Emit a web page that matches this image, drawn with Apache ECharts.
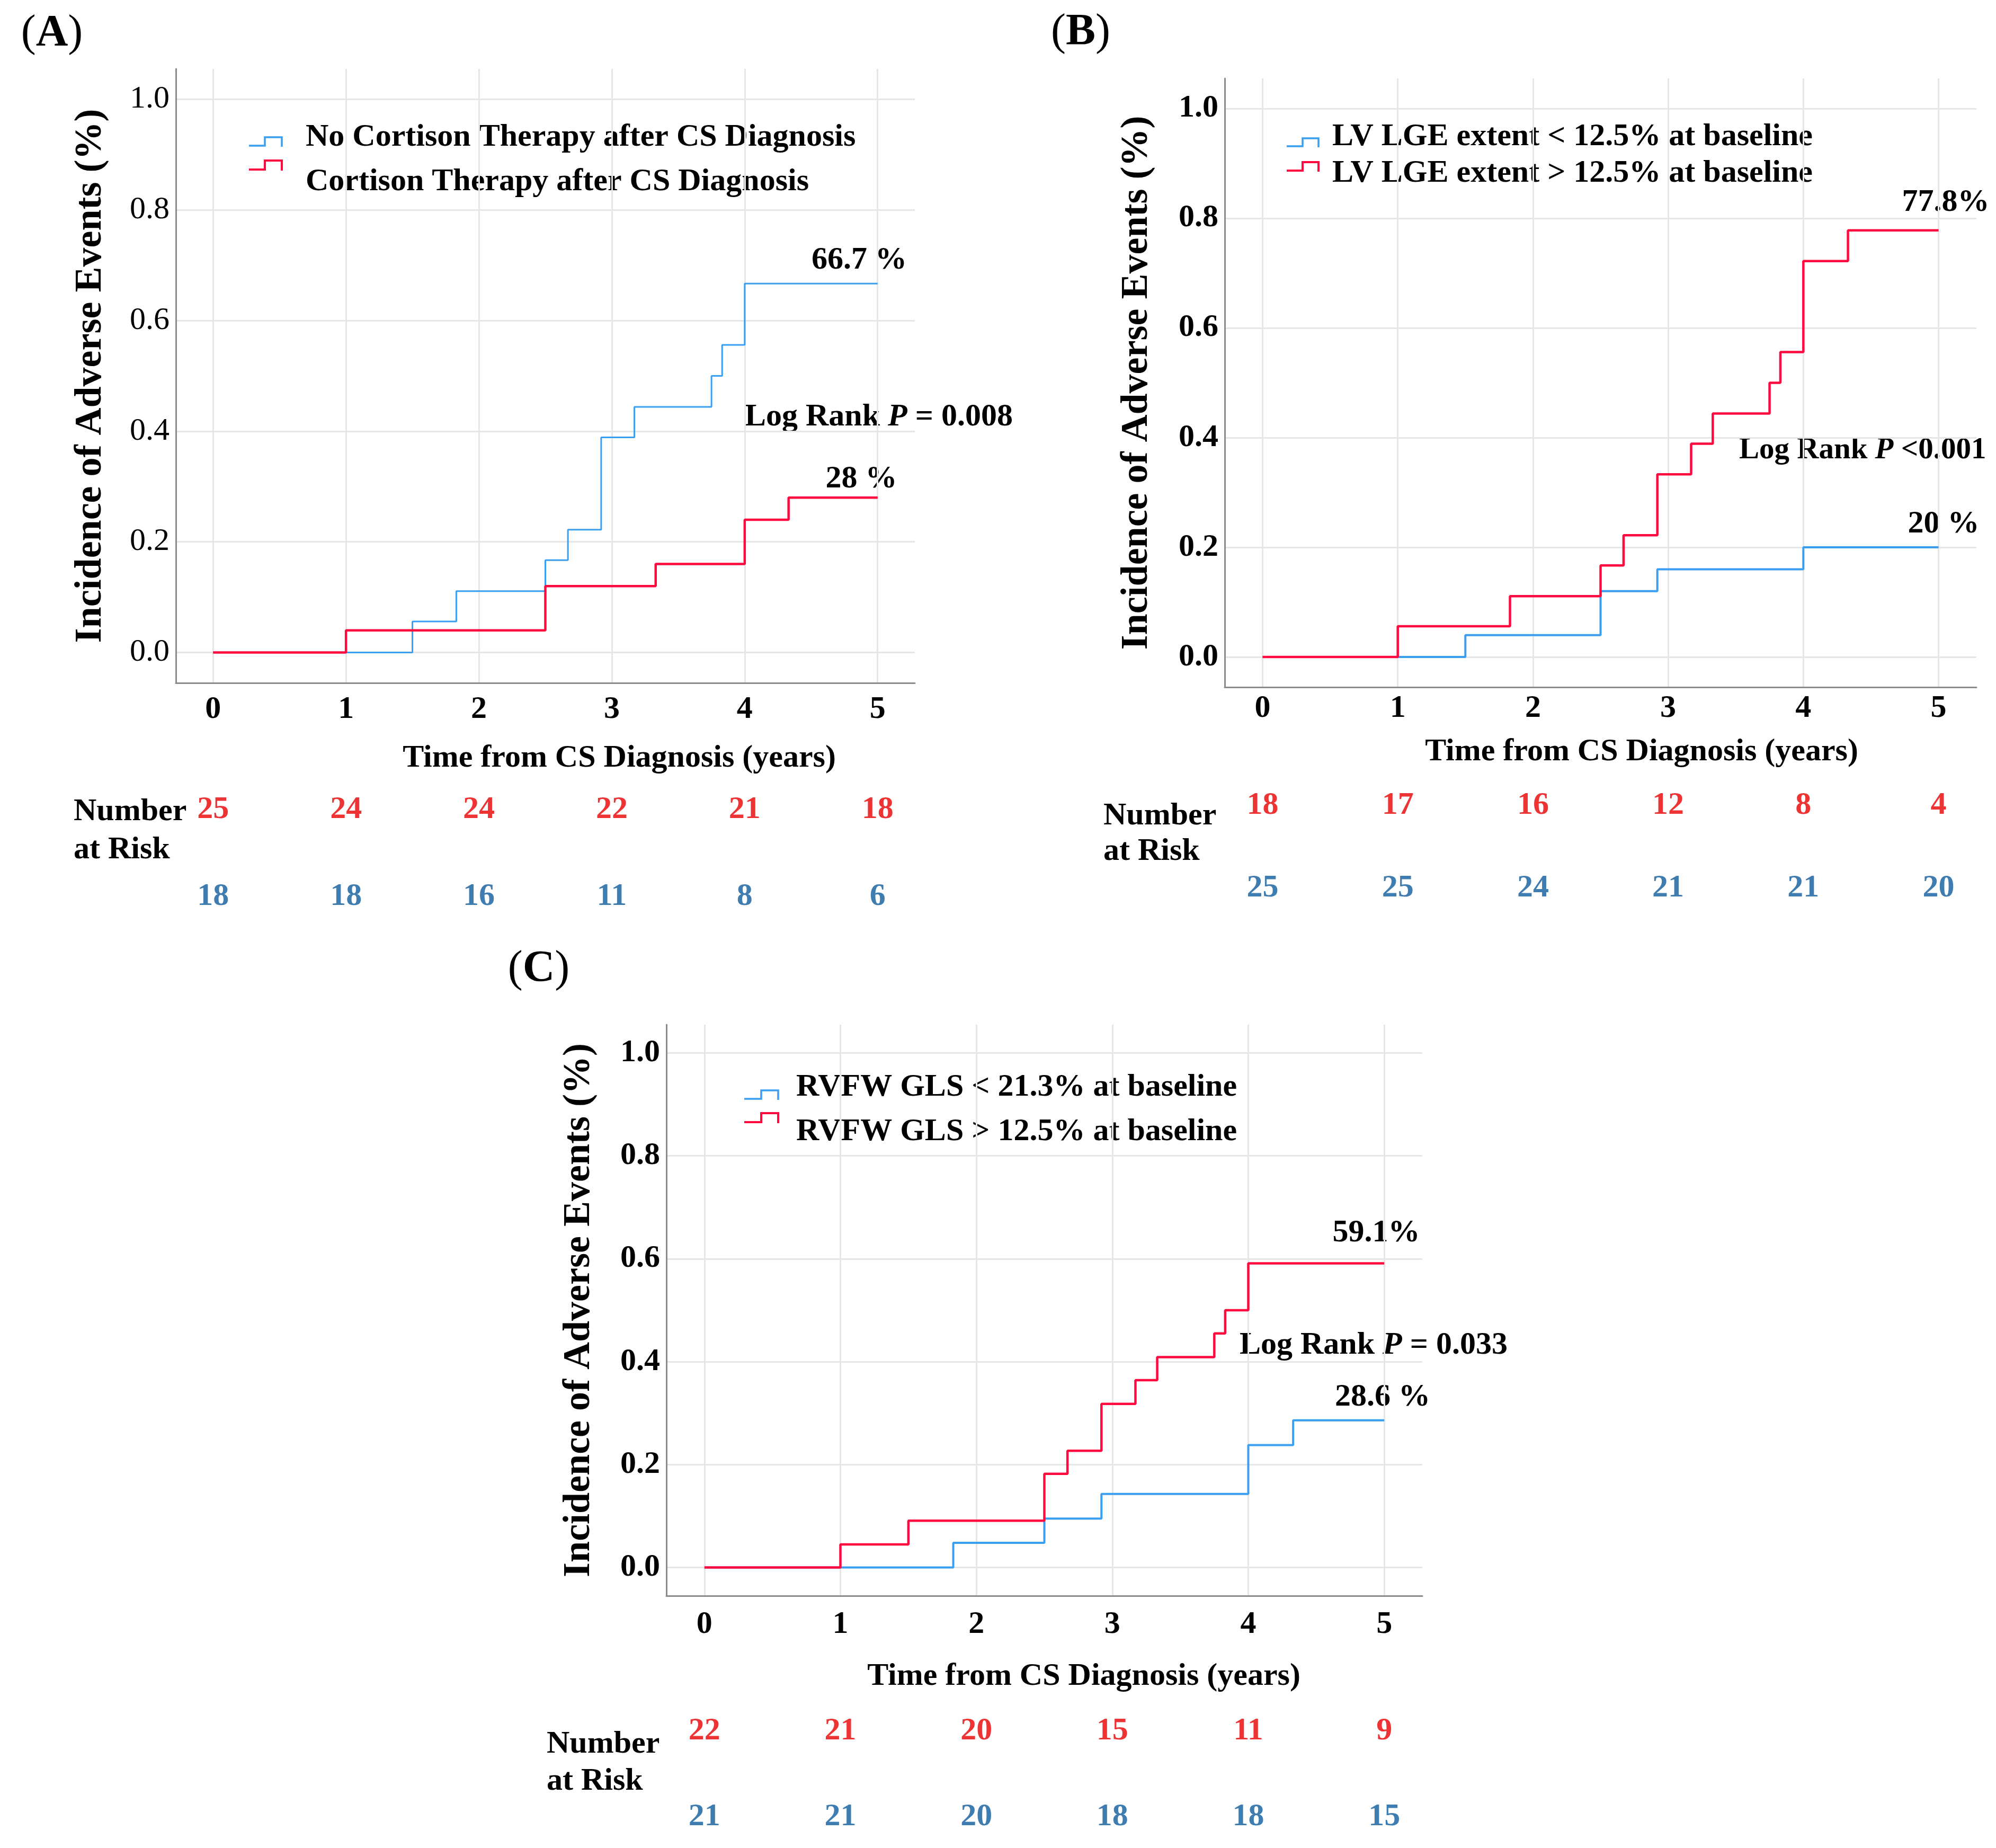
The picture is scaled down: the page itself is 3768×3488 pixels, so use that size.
<!DOCTYPE html>
<html><head><meta charset="utf-8">
<script src="https://cdn.jsdelivr.net/npm/echarts@6/dist/echarts.min.js"></script>
<style>html,body{margin:0;padding:0;background:#fff}#c{width:3768px;height:3488px}</style>
</head><body><div id="c"></div><script>
// ---------- data ----------
const xTicks = [0, 1, 2, 3, 4, 5];
const yTicks = [0, 0.2, 0.4, 0.6, 0.8, 1.0];
const riskTimes = [0, 1, 2, 3, 4, 5];

// Panel A
const aBlueName = 'No Cortison Therapy after CS Diagnosis';
const aRedName = 'Cortison Therapy after CS Diagnosis';
const aBlueT = [0, 1.5, 1.83, 2.5, 2.67, 2.92, 3.17, 3.75, 3.83, 4.0, 5];
const aBlueY = [0, 0.056, 0.111, 0.167, 0.222, 0.389, 0.444, 0.5, 0.556, 0.667, 0.667];
const aRedT = [0, 1.0, 2.5, 3.33, 4.0, 4.33, 5];
const aRedY = [0, 0.04, 0.12, 0.16, 0.24, 0.28, 0.28];
const aRiskRed = [25, 24, 24, 22, 21, 18];
const aRiskBlue = [18, 18, 16, 11, 8, 6];

// Panel B
const bBlueName = 'LV LGE extent < 12.5% at baseline';
const bRedName = 'LV LGE extent > 12.5% at baseline';
const bBlueT = [0, 1.5, 2.5, 2.92, 4.0, 5];
const bBlueY = [0, 0.04, 0.12, 0.16, 0.2, 0.2];
const bRedT = [0, 1.0, 1.83, 2.5, 2.67, 2.92, 3.17, 3.33, 3.75, 3.83, 4.0, 4.33, 5];
const bRedY = [0, 0.056, 0.111, 0.167, 0.222, 0.333, 0.389, 0.444, 0.5, 0.556, 0.722, 0.778, 0.778];
const bRiskRed = [18, 17, 16, 12, 8, 4];
const bRiskBlue = [25, 25, 24, 21, 21, 20];

// Panel C
const cBlueName = 'RVFW GLS < 21.3% at baseline';
const cRedName = 'RVFW GLS > 12.5% at baseline';
const cBlueT = [0, 1.83, 2.5, 2.92, 4.0, 4.33, 5];
const cBlueY = [0, 0.048, 0.095, 0.143, 0.238, 0.286, 0.286];
const cRedT = [0, 1.0, 1.5, 2.5, 2.67, 2.92, 3.17, 3.33, 3.75, 3.83, 4.0, 5];
const cRedY = [0, 0.045, 0.091, 0.182, 0.227, 0.318, 0.364, 0.409, 0.455, 0.5, 0.591, 0.591];
const cRiskRed = [22, 21, 20, 15, 11, 9];
const cRiskBlue = [21, 21, 20, 18, 18, 15];

// annotation texts
const aEndBlue = '66.7 %', aEndRed = '28 %', aP = '= 0.008';
const bEndRed = '77.8%', bEndBlue = '20 %', bP = '<0.001';
const cEndRed = '59.1%', cEndBlue = '28.6 %', cP = '= 0.033';

// ---------- style ----------
const FONT = "'Liberation Serif','Times New Roman',serif";
const BLUE = '#3a9ff0', RED = '#ff0a3f';
const RISK_RED = '#e80000', RISK_BLUE = '#0f5c9e';
const X_MIN = -0.28, X_MAX = 5.28, Y_MIN = -0.055, Y_MAX = 1.055;

const panels = [
  { letter: 'A', grid: {left: 332, top: 130, width: 1395, height: 1159}, yGap: 125, xLabMargin: 20, yLabW: 'normal',
    risk: {top: 1528, height: 164},
    blue: {name: aBlueName, t: aBlueT, y: aBlueY, w: 3}, red: {name: aRedName, t: aRedT, y: aRedY, w: 4.5},
    riskRed: aRiskRed, riskBlue: aRiskBlue,
    letterPos: [98, 64],
    legend: {x0: 470, x1: 500, x2: 532, blueLow: 275, blueHigh: 259, redLow: 320, redHigh: 303, textX: 577, t1: 259, t2: 343},
    xTitle: [1169, 1431], number: [139, 1532, 1604],
    ann: [{t: aEndBlue, x: 1622, y: 491}, {t: aEndRed, x: 1626, y: 904}], p: {t: aP, x: 1406, y: 787, fs: 60} },
  { letter: 'B', grid: {left: 2312, top: 148, width: 1419, height: 1149}, yGap: 130, xLabMargin: 10, yLabW: 'bold',
    risk: {top: 1520, height: 156},
    blue: {name: bBlueName, t: bBlueT, y: bBlueY, w: 4}, red: {name: bRedName, t: bRedT, y: bRedY, w: 4.5},
    riskRed: bRiskRed, riskBlue: bRiskBlue,
    letterPos: [2040, 62],
    legend: {x0: 2429, x1: 2459, x2: 2489, blueLow: 276, blueHigh: 261, redLow: 322, redHigh: 306, textX: 2515, t1: 258, t2: 327},
    xTitle: [3099, 1419], number: [2083, 1540, 1607],
    ann: [{t: bEndRed, x: 3673, y: 382}, {t: bEndBlue, x: 3669, y: 989}], p: {t: bP, x: 3283, y: 850, fs: 57} },
  { letter: 'C', grid: {left: 1258, top: 1934, width: 1427, height: 1078}, yGap: 129, xLabMargin: 24, yLabW: 'bold',
    risk: {top: 3267, height: 162},
    blue: {name: cBlueName, t: cBlueT, y: cBlueY, w: 4}, red: {name: cRedName, t: cRedT, y: cRedY, w: 4.5},
    riskRed: cRiskRed, riskBlue: cRiskBlue,
    letterPos: [1017, 1830],
    legend: {x0: 1405, x1: 1437, x2: 1469, blueLow: 2074, blueHigh: 2058, redLow: 2118, redHigh: 2101, textX: 1503, t1: 2052, t2: 2136},
    xTitle: [2046, 3164], number: [1032, 3292, 3362],
    ann: [{t: cEndRed, x: 2598, y: 2327}, {t: cEndBlue, x: 2610, y: 2637}], p: {t: cP, x: 2340, y: 2539, fs: 60} }
];

const grids = [], xAxes = [], yAxes = [], series = [], graphics = [];

panels.forEach((p, i) => {
  const gi = grids.length;
  grids.push(Object.assign({outerBoundsMode: 'none', containLabel: false}, p.grid));
  xAxes.push({
    type: 'value', gridIndex: gi, min: X_MIN, max: X_MAX,
    axisLine: {show: true, onZero: false, lineStyle: {color: '#8c8c8c', width: 3}},
    axisTick: {show: false, customValues: xTicks},
    axisLabel: {customValues: xTicks, margin: p.xLabMargin, fontFamily: FONT, fontSize: 60, fontWeight: 'bold', color: '#000'},
    splitLine: {show: true, lineStyle: {color: '#e6e6e6', width: 3}}
  });
  yAxes.push({
    type: 'value', gridIndex: gi, min: Y_MIN, max: Y_MAX,
    name: 'Incidence of Adverse Events (%)', nameLocation: 'middle', nameGap: p.yGap,
    nameTextStyle: {fontFamily: FONT, fontSize: 72, fontWeight: 'bold', color: '#000'},
    axisLine: {show: true, onZero: false, lineStyle: {color: '#8c8c8c', width: 3}},
    axisTick: {show: false, customValues: yTicks},
    axisLabel: {customValues: yTicks, margin: 12, fontFamily: FONT, fontSize: 60, fontWeight: p.yLabW, color: '#000',
      formatter: v => Number(v).toFixed(1)},
    splitLine: {show: true, lineStyle: {color: '#e6e6e6', width: 3}}
  });
  [p.blue, p.red].forEach((s, k) => {
    series.push({
      type: 'line', name: s.name, xAxisIndex: gi, yAxisIndex: gi, step: 'end',
      showSymbol: false, symbol: 'none', animation: false, z: 3 + k,
      lineStyle: {color: k === 0 ? BLUE : RED, width: s.w},
      itemStyle: {color: k === 0 ? BLUE : RED},
      data: s.t.map((t, j) => [t, s.y[j]])
    });
  });
  // number-at-risk grid (same x scale)
  const ri = grids.length;
  grids.push({outerBoundsMode: 'none', containLabel: false, left: p.grid.left, width: p.grid.width, top: p.risk.top, height: p.risk.height});
  xAxes.push({type: 'value', gridIndex: ri, min: X_MIN, max: X_MAX, show: false});
  yAxes.push({type: 'value', gridIndex: ri, min: 0, max: 1, show: false});
  [[p.riskRed, 1, RISK_RED], [p.riskBlue, 0, RISK_BLUE]].forEach(([arr, row, col]) => {
    series.push({
      type: 'scatter', xAxisIndex: ri, yAxisIndex: ri, symbolSize: 2, animation: false, silent: true,
      itemStyle: {color: 'rgba(0,0,0,0)'},
      label: {show: true, position: 'inside', formatter: q => String(q.value[2]),
        fontFamily: FONT, fontSize: 60, fontWeight: 'bold', color: col},
      data: riskTimes.map((t, j) => [t, row, arr[j]])
    });
  });
  // panel letter
  graphics.push({type: 'text', x: p.letterPos[0], y: p.letterPos[1], style: {
    text: '{r|(}{b|' + p.letter + '}{r|)}', align: 'center', verticalAlign: 'middle',
    rich: {r: {fontFamily: FONT, fontSize: 84, fill: '#000'}, b: {fontFamily: FONT, fontSize: 84, fontWeight: 'bold', fill: '#000'}}
  }});
  // legend
  const L = p.legend;
  graphics.push({type: 'polyline', shape: {points: [[L.x0, L.blueLow], [L.x1, L.blueLow], [L.x1, L.blueHigh], [L.x2, L.blueHigh], [L.x2, L.blueLow + 2]]},
    style: {stroke: BLUE, lineWidth: 3.5, fill: null}});
  graphics.push({type: 'polyline', shape: {points: [[L.x0, L.redLow], [L.x1, L.redLow], [L.x1, L.redHigh], [L.x2, L.redHigh], [L.x2, L.redLow + 2]]},
    style: {stroke: RED, lineWidth: 4, fill: null}});
  [[p.blue.name, L.t1], [p.red.name, L.t2]].forEach(([txt, yy]) => {
    graphics.push({type: 'text', x: L.textX, y: yy, style: {text: txt, font: 'bold 60px ' + FONT, fill: '#000', align: 'left', verticalAlign: 'middle'}});
  });
  // x title
  graphics.push({type: 'text', x: p.xTitle[0], y: p.xTitle[1], style: {text: 'Time from CS Diagnosis (years)', font: 'bold 60px ' + FONT, fill: '#000', align: 'center', verticalAlign: 'middle'}});
  // number at risk
  graphics.push({type: 'text', x: p.number[0], y: p.number[1], style: {text: 'Number', font: 'bold 60px ' + FONT, fill: '#000', align: 'left', verticalAlign: 'middle'}});
  graphics.push({type: 'text', x: p.number[0], y: p.number[2], style: {text: 'at Risk', font: 'bold 60px ' + FONT, fill: '#000', align: 'left', verticalAlign: 'middle'}});
  // annotations
  p.ann.forEach(a => graphics.push({type: 'text', x: a.x, y: a.y, style: {text: a.t, font: 'bold 60px ' + FONT, fill: '#000', align: 'center', verticalAlign: 'middle'}}));
  graphics.push({type: 'text', x: p.p.x, y: p.p.y, style: {
    text: '{a|Log Rank }{i|P}{a| ' + p.p.t + '}', align: 'left', verticalAlign: 'middle',
    rich: {a: {fontFamily: FONT, fontSize: p.p.fs, fontWeight: 'bold', fill: '#000'},
           i: {fontFamily: FONT, fontSize: p.p.fs, fontWeight: 'bold', fontStyle: 'italic', fill: '#000'}}
  }});
});

const chart = echarts.init(document.getElementById('c'), null, {renderer: 'canvas'});
chart.setOption({
  backgroundColor: '#fff', animation: false,
  grid: grids, xAxis: xAxes, yAxis: yAxes, series: series,
  graphic: {elements: graphics}
});
</script></body></html>
